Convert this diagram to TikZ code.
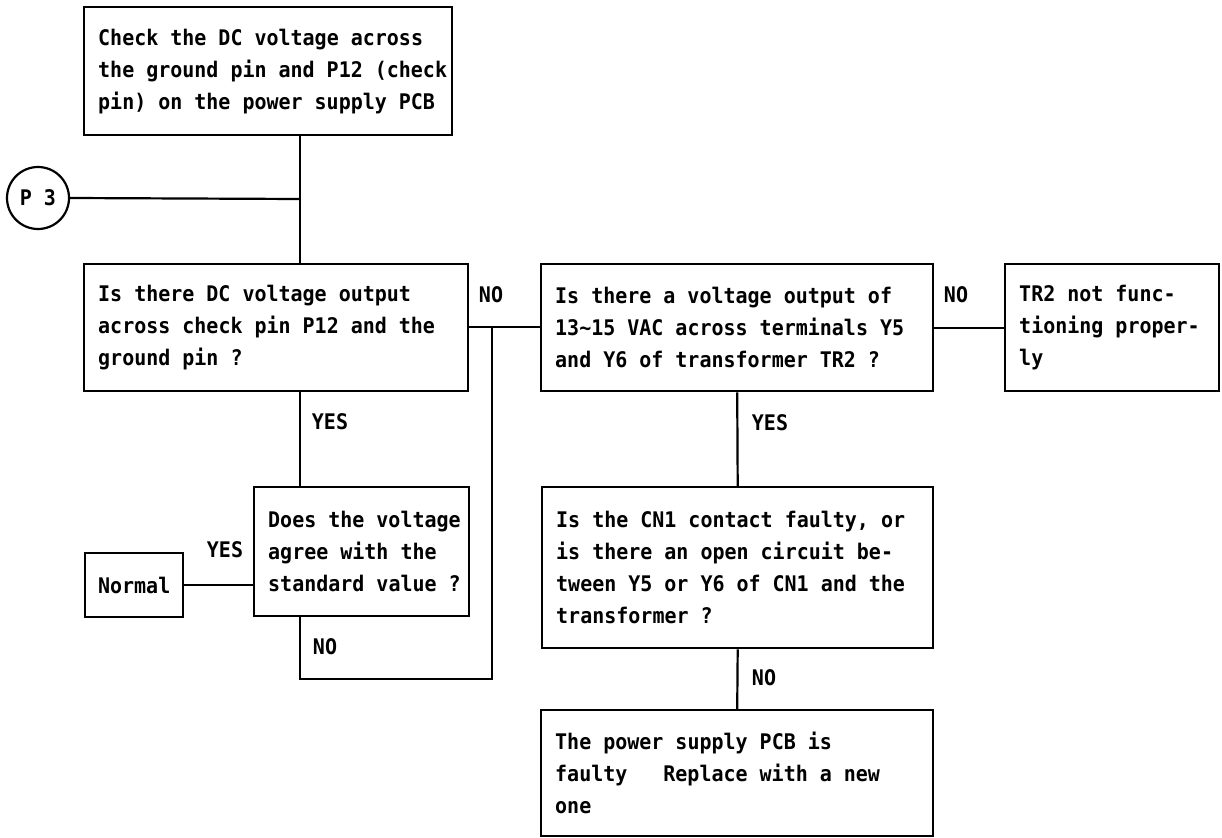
\documentclass[tikz,border=0pt]{standalone}
\usepackage{fontspec}
\setmonofont{DejaVu Sans Mono}[FakeStretch=0.93]
\newcommand\chartfont{\ttfamily\bfseries\fontsize{21.5}{32}\selectfont\spaceskip=12pt\relax}
\begin{document}
\begin{tikzpicture}[x=1pt,y=-1pt,
  every node/.style={font=\chartfont},
  box/.style={draw, line width=2.4pt, anchor=north west, inner xsep=14pt, inner ysep=0pt, align=flush left},
  lbl/.style={inner sep=0pt},
  conn/.style={line width=2.2pt}]
\useasboundingbox (0,0) rectangle (1222,837);

% boxes
\node[box, minimum width=368pt, minimum height=128pt, text width=340pt] (chk) at (83,6)
  {\mbox{Check the DC voltage across}\\\mbox{the ground pin and P12 (check}\\\mbox{pin) on the power supply PCB}};
\node[box, minimum width=384pt, minimum height=127pt, text width=356pt] (dcq) at (83,263)
  {\mbox{Is there DC voltage output}\\\mbox{across check pin P12 and the}\\\mbox{ground pin ?}};
\node[box, minimum width=392pt, minimum height=127pt, text width=364pt] (acq) at (540,263)
  {\mbox{Is there a voltage output of}\\\mbox{13\textasciitilde15 VAC across terminals Y5}\\\mbox{and Y6 of transformer TR2 ?}};
\node[box, minimum width=214pt, minimum height=127pt, text width=186pt] (trb) at (1004,263)
  {\mbox{TR2 not func-}\\\mbox{tioning proper-}\\\mbox{ly}};
\node[box, minimum width=215pt, minimum height=129pt, text width=187pt] (stdq) at (253,486)
  {\mbox{Does the voltage}\\\mbox{agree with the}\\\mbox{standard value ?}};
\node[box, minimum width=98pt, minimum height=64pt, inner xsep=4pt, align=center] (nrm) at (84,552)
  {Normal};
\node[box, minimum width=391pt, minimum height=161pt, text width=363pt] (cnq) at (541,486)
  {\mbox{Is the CN1 contact faulty, or}\\\mbox{is there an open circuit be-}\\\mbox{tween Y5 or Y6 of CN1 and the}\\\mbox{transformer ?}};
\node[box, minimum width=392pt, minimum height=126pt, text width=364pt] (pcb) at (540,709)
  {\mbox{The power supply PCB is}\\\mbox{faulty\ \ \ Replace with a new}\\\mbox{one}};

% entry connector
\node[draw, circle, line width=2.2pt, minimum size=62pt, inner sep=0pt] (pthree) at (38,198) {P 3};

% junction points
\coordinate (jn) at (300,199);
\coordinate (nojn) at (492,327);
\coordinate (loop) at (492,679);

% connectors
\draw[conn] (pthree.east) -- (jn);
\draw[conn] (chk.south -| jn) -- (dcq.north -| jn);
\draw[conn] (dcq.south -| jn) -- (stdq.north -| jn);
\draw[conn] (nrm.east) -- (nrm.east -| stdq.west);
\draw[conn] (stdq.south -| jn) |- (loop) -- (nojn);
\draw[conn] (dcq.east |- nojn) -- (acq.west |- nojn);
\draw[conn] (acq.east) -- (trb.west);
\draw[conn] (acq.south) -- (cnq.north);
\draw[conn] (cnq.south) -- (pcb.north);

% branch labels
\node[lbl] (no1) at (491,295) {NO};
\node[lbl] (no2) at (956,295) {NO};
\node[lbl] (yes1) at (330,422) {YES};
\node[lbl] (yes2) at (225,550) {YES};
\node[lbl] (no3) at (325,647) {NO};
\node[lbl] (yes3) at (770,423) {YES};
\node[lbl] (no4) at (764,678) {NO};
\end{tikzpicture}
\end{document}
